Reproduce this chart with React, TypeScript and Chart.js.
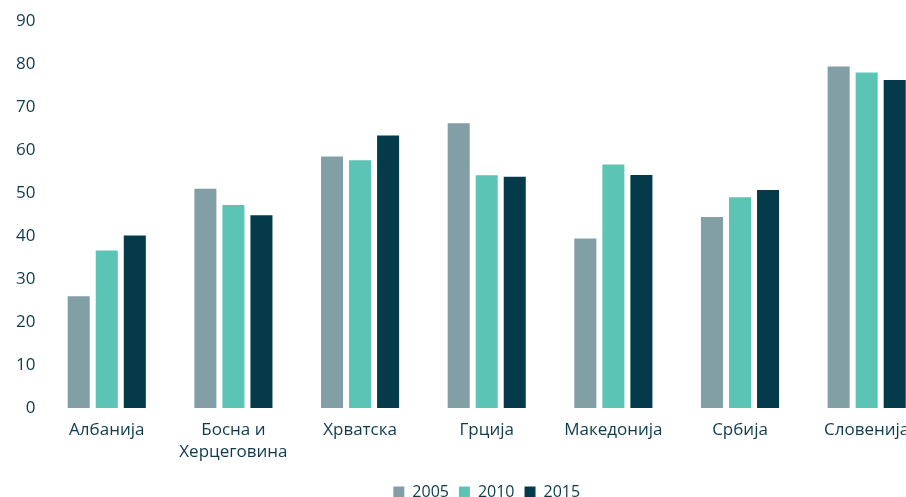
import React, { useEffect, useRef } from "react";
import { Chart, registerables } from "chart.js";

Chart.register(...registerables);

const categories: (string | string[])[] = [
  "Албанија",
  ["Босна и", "Херцеговина"],
  "Хрватска",
  "Грција",
  "Македонија",
  "Србија",
  "Словенија",
];
const series2005 = [26, 51, 58.5, 66.2, 39.4, 44.4, 79.4];
const series2010 = [36.6, 47.2, 57.6, 54.1, 56.6, 49, 78];
const series2015 = [40.1, 44.8, 63.4, 53.8, 54.2, 50.7, 76.3];
const yMin = 0;
const yMax = 90;
const yStep = 10;

const TEXT = "#0d3b4c";
const FONT = "'Open Sans', sans-serif";

export default function App() {
  const ref = useRef<HTMLCanvasElement | null>(null);
  useEffect(() => {
    if (!ref.current) return;
    const chart = new Chart(ref.current, {
      type: "bar",
      data: {
        labels: categories,
        datasets: [
          { label: "2005", data: series2005, backgroundColor: "#839fa6" },
          { label: "2010", data: series2010, backgroundColor: "#5cc4b5" },
          { label: "2015", data: series2015, backgroundColor: "#053a4b" },
        ],
      },
      options: {
        responsive: false,
        animation: false,
        maintainAspectRatio: false,
        datasets: {
          bar: { categoryPercentage: 0.664, barPercentage: 0.786 },
        },
        layout: { padding: { left: 8, top: 21, right: 0, bottom: 0 } },
        plugins: {
          tooltip: { enabled: false },
          legend: {
            position: "bottom",
            fullSize: false,
            labels: {
              boxWidth: 11,
              boxHeight: 11,
              padding: 10,
              color: TEXT,
              font: { family: FONT, size: 16 },
            },
          },
        },
        scales: {
          x: {
            grid: { display: false, drawTicks: false },
            border: { display: false },
            ticks: {
              color: TEXT,
              font: { family: FONT, size: 17, lineHeight: 1.294 },
              padding: 11,
              maxRotation: 0,
            },
          },
          y: {
            min: yMin,
            max: yMax,
            grid: { display: false, drawTicks: false },
            border: { display: false },
            ticks: { stepSize: yStep, color: TEXT, font: { family: FONT, size: 17 }, padding: 8 },
          },
        },
      },
    });
    return () => chart.destroy();
  }, []);
  return (
    <div style={{ position: "absolute", left: 0, top: 0, width: 906, height: 497, overflow: "hidden", background: "#fff" }}>
      <canvas ref={ref} width={930} height={510} style={{ display: "block" }} />
    </div>
  );
}
